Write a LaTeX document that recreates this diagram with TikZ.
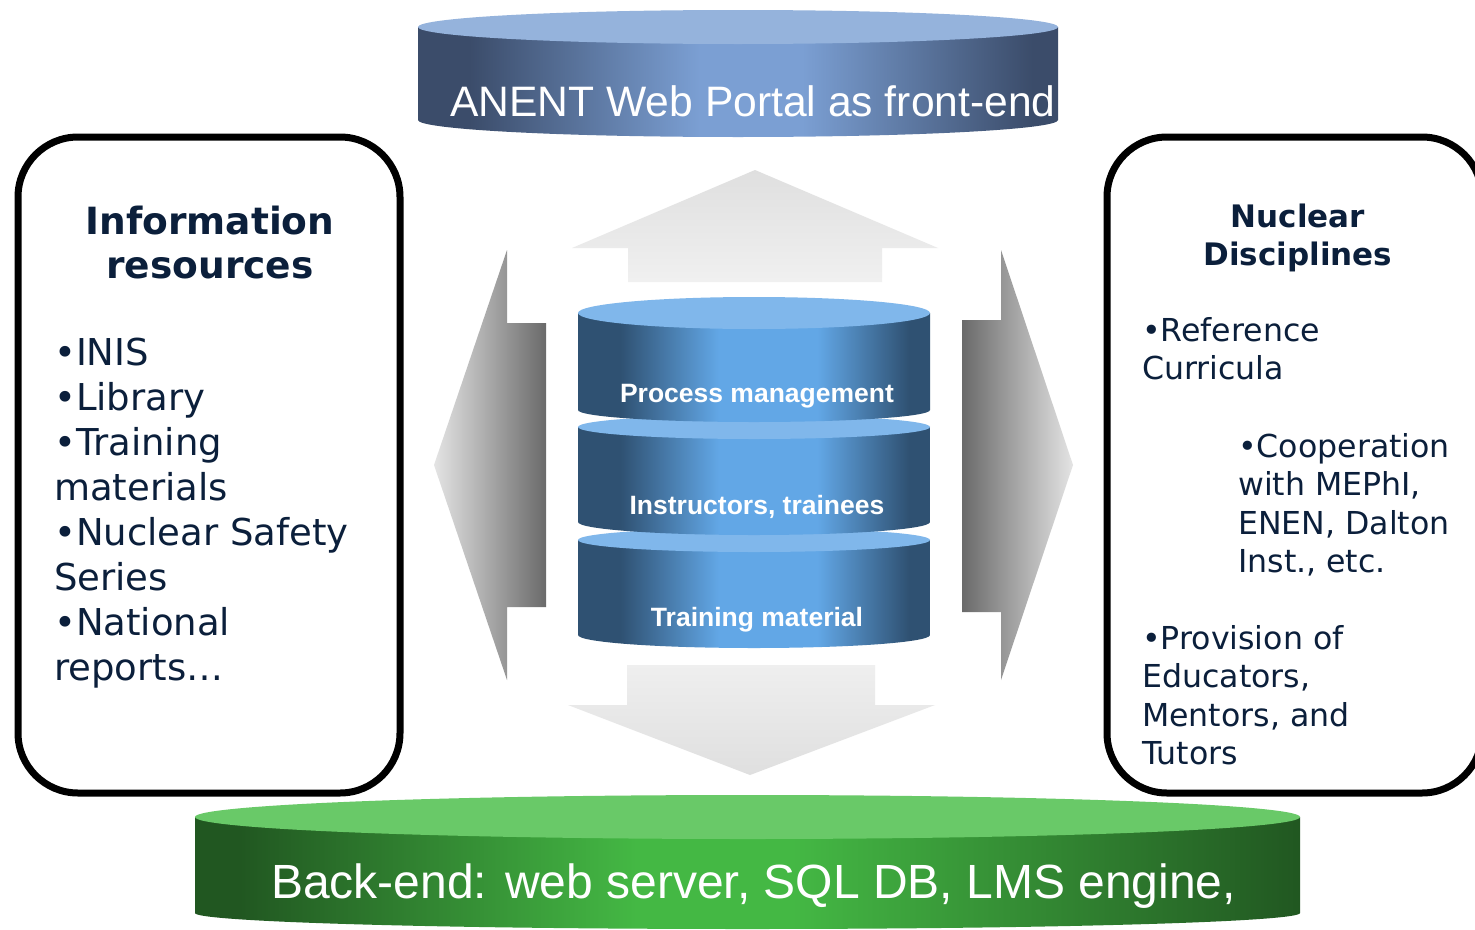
\documentclass[tikz,border=0pt]{standalone}
\usepackage{fontspec}
\newfontfamily\verdfont{DejaVu Sans}
\newfontfamily\arialfont{Liberation Sans}

\definecolor{navy}{HTML}{0B1F3B}
\definecolor{layerdark}{HTML}{2F5172}
\definecolor{layerlight}{HTML}{62A7E6}
\definecolor{layertop}{HTML}{80B7EB}
\definecolor{portaldark}{HTML}{3B4C6A}
\definecolor{portallight}{HTML}{7B9FD3}
\definecolor{portaltop}{HTML}{95B3DC}
\definecolor{serverdark}{HTML}{215721}
\definecolor{serverlight}{HTML}{44B844}
\definecolor{servertop}{HTML}{69C968}
\definecolor{flowlight}{HTML}{E4E4E4}
\definecolor{flowdark}{HTML}{6A6A6A}

% Side shadings of the three kinds of drums (25bp..75bp is the drum width).
\pgfdeclarehorizontalshading{layerside}{100bp}{color(0bp)=(layerdark); color(31bp)=(layerdark);
    color(45bp)=(layerlight); color(59bp)=(layerlight); color(72bp)=(layerdark); color(100bp)=(layerdark)}
\pgfdeclarehorizontalshading{portalside}{100bp}{color(0bp)=(portaldark); color(29bp)=(portaldark);
    color(47bp)=(portallight); color(55bp)=(portallight); color(73bp)=(portaldark); color(100bp)=(portaldark)}
\pgfdeclarehorizontalshading{serverside}{100bp}{color(0bp)=(serverdark); color(27bp)=(serverdark);
    color(45bp)=(serverlight); color(52bp)=(serverlight); color(75bp)=(serverdark); color(100bp)=(serverdark)}

% \drum{left}{right}{top y}{top radius}{bottom y}{bottom radius}{colours}
\newcommand*\drum[7]{%
    \shade[shading=#7side] (#1,#3) -- (#1,#5)
        arc[start angle=180, end angle=0, x radius={(#2-#1)/2}, y radius=#6] -- (#2,#3) -- cycle;
    \fill[#7top] ({(#1+#2)/2},#3) ellipse[x radius={(#2-#1)/2}, y radius=#4];
}

\tikzset{
    panel/.style={draw=black, line width=7pt, rounded corners=60pt},
    drumlabel/.style={text=white, inner sep=0pt, anchor=base},
    boxtitle/.style={text=navy, inner sep=0pt, anchor=base, font=\verdfont\bfseries},
    listitem/.style={text=navy, inner sep=0pt, anchor=base west}
}

\begin{document}
\begin{tikzpicture}[x=1pt,y=-1pt]

    \useasboundingbox (0,0) rectangle (1475,929);
    \fill[white] (0,0) rectangle (1475,929);

    % The four flow arrows round the stack.
    \shade[top color=flowlight!95!gray, bottom color=flowlight!55!white]
        (755,170) -- (938,248) -- (882,248) -- (882,282) -- (628,282) -- (628,248) -- (572,248) -- cycle;
    \shade[top color=flowlight!60!white, bottom color=flowlight!95!gray]
        (627,665) -- (875,665) -- (875,705) -- (935,705) -- (750,775) -- (568,705) -- (627,705) -- cycle;
    \shade[left color=flowlight, right color=flowdark]
        (434,465) -- (507,250) -- (507,323) -- (546,323) -- (546,607) -- (507,607) -- (507,680) -- cycle;
    \shade[left color=flowdark, right color=flowlight]
        (1073,465) -- (1001,250) -- (1001,320) -- (962,320) -- (962,612) -- (1001,612) -- (1001,680) -- cycle;

    % The stack, drawn from the bottom up.
    \drum{578}{930}{540}{12}{635}{13}{layer}
    \drum{578}{930}{427}{12}{522}{13}{layer}
    \drum{578}{930}{313}{16}{410}{12}{layer}

    \node[drumlabel, font=\arialfont\bfseries\fontsize{26.5}{30}\selectfont] (process) at (757,402) {Process management};
    \node[drumlabel, font=\arialfont\bfseries\fontsize{26.5}{30}\selectfont] (people) at (757,514) {Instructors, trainees};
    \node[drumlabel, font=\arialfont\bfseries\fontsize{26.5}{30}\selectfont] (material) at (757,626) {Training material};

    % Front-end and back-end.
    \drum{418}{1058}{27}{17}{120}{17}{portal}
    \drum{195}{1300}{817}{22}{913}{16}{server}

    \node[text=white, inner sep=0pt, anchor=base west, font=\arialfont\fontsize{42.6}{48}\selectfont]
        (portal) at (450,116) {ANENT Web Portal as front-end};
    \node[text=white, inner sep=0pt, anchor=base west, font=\arialfont\fontsize{48}{54}\selectfont]
        (server) at (271,898) {Back-end: web server, SQL DB, LMS engine,};

    % Left panel.
    \draw[panel] (18,137) rectangle (400,793);
    \node[boxtitle, font=\verdfont\bfseries\fontsize{37.5}{44}\selectfont] (infotitle) at (210,234) {Information};
    \node[boxtitle, font=\verdfont\bfseries\fontsize{37.5}{44}\selectfont] (infosub) at (210,278) {resources};
    \foreach \txt [count=\i] in {•INIS,•Library,•Training,materials,•Nuclear Safety,Series,•National,reports\ldots}
        \node[listitem, font=\verdfont\fontsize{37}{45}\selectfont] (info\i) at (54,{365+45*(\i-1)}) {\txt};

    % Right panel, running off the page.
    \draw[panel] (1107,137) rectangle (1482,793);
    \node[boxtitle, font=\verdfont\bfseries\fontsize{31}{38}\selectfont] (disctitle) at (1298,227) {Nuclear};
    \node[boxtitle, font=\verdfont\bfseries\fontsize{31}{38}\selectfont] (discsub) at (1298,265) {Disciplines};
    \foreach \txt [count=\i] in {•Reference,Curricula}
        \node[listitem, font=\verdfont\fontsize{31.6}{38}\selectfont] (ref\i) at (1142,{341+38.7*(\i-1)}) {\txt};
    \foreach \txt [count=\i] in {•Cooperation,{with MEPhI,},{ENEN, Dalton},{Inst., etc.}}
        \node[listitem, font=\verdfont\fontsize{31.6}{38}\selectfont] (coop\i) at (1238,{457+38.5*(\i-1)}) {\txt};
    \foreach \txt [count=\i] in {•Provision of,{Educators,},{Mentors, and},Tutors}
        \node[listitem, font=\verdfont\fontsize{31.6}{38}\selectfont] (prov\i) at (1142,{649+38.5*(\i-1)}) {\txt};

\end{tikzpicture}
\end{document}
